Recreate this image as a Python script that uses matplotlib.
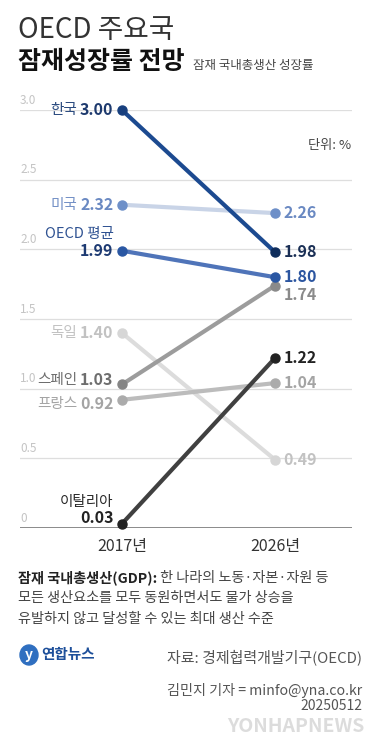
import matplotlib.pyplot as plt
from matplotlib.patches import Ellipse

plt.rcParams['font.family'] = ['Noto Sans CJK KR', 'DejaVu Sans']

# data
years = ['2017년', '2026년']
countries = ['독일', '프랑스', '스페인', '이탈리아', '미국', 'OECD 평균', '한국']
v2017 = [1.40, 0.92, 1.03, 0.03, 2.32, 1.99, 3.00]
v2026 = [0.49, 1.04, 1.74, 1.22, 2.26, 1.80, 1.98]
yticks = [0, 0.5, 1.0, 1.5, 2.0, 2.5, 3.0]
ytick_labels = ['0', '0.5', '1.0', '1.5', '2.0', '2.5', '3.0']

# styles: line, marker start, marker end, name colour, value colours
styles = {
    '독일': ('#dcdcdc', '#d6d6d6', '#d6d6d6', '#c2c2c2', '#c2c2c2', '#c2c2c2'),
    '프랑스': ('#bcbcbc', '#ababab', '#ababab', '#a4a4a4', '#a4a4a4', '#a4a4a4'),
    '스페인': ('#9c9c9c', '#858585', '#8a8a8a', '#6e6e6e', '#6e6e6e', '#8a8a8a'),
    '이탈리아': ('#404040', '#222222', '#222222', '#2a2a2a', '#222222', '#222222'),
    '미국': ('#c9d4e7', '#6d8fc8', '#6d8fc8', '#7390c6', '#6a89c2', '#6a89c2'),
    'OECD 평균': ('#4f74b9', '#2a57a3', '#2a57a3', '#2f5292', '#1d3a72', '#2b55a0'),
    '한국': ('#1c4a90', '#173f7e', '#0f2d5c', '#2a4a7f', '#1e3a6e', '#1a2f55'),
}
# label offsets in points (left label dy, right label dy)
offsets = {
    '독일': (0, 0), '프랑스': (-3, 0), '스페인': (3, -7), '이탈리아': (4, 0),
    '미국': (0, 0), 'OECD 평균': (0, 0), '한국': (0, 0),
}

W, H = 378, 750
fig = plt.figure(figsize=(W / 100, H / 100), dpi=100)


def fx(x):
    return x / W


def fy(y):
    return 1 - y / H


ax = fig.add_axes([fx(20), fy(528), fx(352) - fx(20), fy(110) - fy(528)])
ax.set_xlim(-0.666, 1.503)
ax.set_ylim(0, 3.0)
ax.axis('off')

for t, lab in zip(yticks, ytick_labels):
    if t == 0:
        ax.axhline(0, color='#8a8a8a', lw=1.4, zorder=1)
    else:
        ax.axhline(t, color='#dedede', lw=0.9, zorder=1)
    ax.annotate(lab, (-0.666, t), xytext=(0, 2.5), textcoords='offset points',
                ha='left', va='bottom', fontsize=8.5, fontweight='light',
                color='#c4c4c4')

for i, name in enumerate(countries):
    line_c, m0, m1, name_c, val0_c, val1_c = styles[name]
    a, b = v2017[i], v2026[i]
    z = 3 + i
    ax.plot([0, 1], [a, b], color=line_c, lw=3, solid_capstyle='round', zorder=z)
    ax.plot([0], [a], 'o', color=m0, ms=6.5, zorder=z + 0.5, clip_on=False)
    ax.plot([1], [b], 'o', color=m1, ms=6.5, zorder=z + 0.5, clip_on=False)

    dl, dr = offsets[name]
    vt = ax.annotate(f'{a:.2f}', (0, a), xytext=(-6, dl), textcoords='offset points',
                     ha='right', va='center', fontsize=11.5, fontweight='bold',
                     color=val0_c)
    if name in ('OECD 평균', '이탈리아'):
        ax.annotate(name, xy=(1, 1), xycoords=vt, xytext=(0, 1),
                    textcoords='offset points', ha='right', va='bottom',
                    fontsize=10.5, color=name_c)
    else:
        ax.annotate(name, xy=(0, 0.5), xycoords=vt, xytext=(-2, 0),
                    textcoords='offset points', ha='right', va='center',
                    fontsize=10.5, color=name_c)
    ax.annotate(f'{b:.2f}', (1, b), xytext=(6, dr), textcoords='offset points',
                ha='left', va='center', fontsize=11.5, fontweight='bold',
                color=val1_c)

for xi, lab in enumerate(years):
    ax.annotate(lab, (xi, 0), xytext=(0, -7), textcoords='offset points',
                ha='center', va='top', fontsize=11.5, color='#333333')

# header
fig.text(fx(18), fy(30), 'OECD 주요국', fontsize=20, fontweight='light',
         color='#333333', va='center', ha='left')
fig.text(fx(18), fy(62), '잠재성장률 전망', fontsize=18, fontweight='bold',
         color='#111111', va='center', ha='left')
fig.text(fx(193), fy(66), '잠재 국내총생산 성장률', fontsize=9, color='#444444',
         va='center', ha='left')
fig.text(fx(351), fy(145), '단위: %', fontsize=9.5, color='#444444',
         va='center', ha='right')

# footnote
t1 = fig.text(fx(18), fy(578), '잠재 국내총생산(GDP):', fontsize=10.2,
              fontweight='bold', color='#222222', va='center', ha='left')
fig.canvas.draw()
bb = t1.get_window_extent()
fig.text(bb.x1 / fig.bbox.width, fy(578), ' 한 나라의 노동·자본·자원 등',
         fontsize=10.2, color='#444444', va='center', ha='left')
fig.text(fx(18), fy(598), '모든 생산요소를 모두 동원하면서도 물가 상승을',
         fontsize=10.2, color='#444444', va='center', ha='left')
fig.text(fx(18), fy(619), '유발하지 않고 달성할 수 있는 최대 생산 수준',
         fontsize=10.2, color='#444444', va='center', ha='left')

# logo and credits
fig.patches.append(Ellipse((fx(29), fy(655)), fx(18), 20 / H, color='#2f6fc0',
                           transform=fig.transFigure, figure=fig))
fig.text(fx(29), fy(655), 'y', fontsize=10, fontweight='bold', style='italic',
         color='white', ha='center', va='center')
fig.text(fx(41), fy(654), '연합뉴스', fontsize=10.5, fontweight='bold',
         color='#1d4f9a', ha='left', va='center')
fig.text(fx(362), fy(657), '자료: 경제협력개발기구(OECD)', fontsize=10.8,
         color='#555555', ha='right', va='center')
fig.text(fx(362), fy(691), '김민지 기자 = minfo@yna.co.kr', fontsize=10.2,
         color='#555555', ha='right', va='center')
fig.text(fx(362), fy(706), '20250512', fontsize=10, color='#555555',
         ha='right', va='center')
fig.text(fx(364), fy(727), 'YONHAPNEWS', fontsize=14, fontweight='bold',
         style='italic', color='#d4d4d4', alpha=0.8, ha='right', va='center')

fig.savefig('out.png', dpi=100)
